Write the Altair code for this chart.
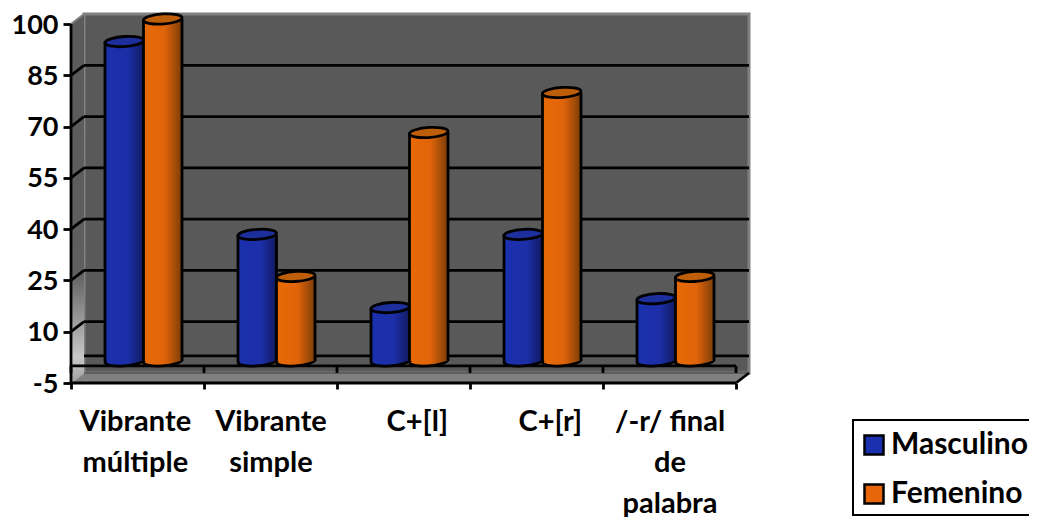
import altair as alt
import pandas as pd

categories = ["Vibrante múltiple", "Vibrante simple", "C+[l]", "C+[r]", "/-r/ final de palabra"]
label_lines = [["Vibrante", "múltiple"], ["Vibrante", "simple"], ["C+[l]"], ["C+[r]"], ["/-r/ final", "de", "palabra"]]
label_positions = [0.48, 1.5, 2.6, 3.6, 4.5]
masculino = [93.4, 37, 15.6, 37, 18.2]
femenino = [100, 24.7, 66.8, 78.5, 24.7]
series_names = ["Masculino", "Femenino"]
y_ticks = [-5, 10, 25, 40, 55, 70, 85, 100]
grid_values = [0, 10, 25, 40, 55, 70, 85]

PX_X, PX_Y = 133.0, 359 / 105
W, H = 678, 369
DX, DY = 13 / PX_X, 10 / PX_Y
XMAX, YMIN, YMAX = W / PX_X, -5, -5 + H / PX_Y
BAR_W = 38.5 / PX_X
NUDGE = 0.5 / PX_X
FONT = "Lato"
LINE = 2.8

label_expr = "".join(
    f"datum.value=={p}?[{','.join(repr(s) for s in lines)}]:" for p, lines in zip(label_positions, label_lines)
) + "''"
x_axis = alt.Axis(values=sorted(list(range(6)) + label_positions), domain=False, grid=False, tickSize=6,
                  tickWidth=LINE, tickColor="black",
                  tickOpacity=alt.condition("datum.value%1==0", alt.value(1), alt.value(0)),
                  labelExpr=label_expr, labelFont=FONT, labelFontSize=29, labelFontWeight="bold",
                  labelColor="black", labelPadding=18, labelLineHeight=41, labelAngle=0,
                  labelOverlap=False, labelFlush=False, labelLimit=300, title=None)
y_axis = alt.Axis(values=y_ticks, domain=False, grid=False, tickSize=8, tickWidth=LINE, tickColor="black",
                  labelExpr="datum.value<0?'-5':datum.label", labelOffset=1,
                  labelFont=FONT, labelFontSize=27, labelFontWeight="bold", labelColor="black",
                  labelPadding=5, title=None)

xs = alt.Scale(domain=[0, XMAX], nice=False, zero=False)
ys = alt.Scale(domain=[YMIN, YMAX], nice=False, zero=False)
def X(f="x"): return alt.X(f"{f}:Q", scale=xs, axis=x_axis)
def Y(f="y"): return alt.Y(f"{f}:Q", scale=ys, axis=y_axis)
X2 = lambda f="x2": alt.X2(f"{f}:Q")
Y2 = lambda f="y2": alt.Y2(f"{f}:Q")

def hgrad(stops):
    return alt.Gradient(gradient="linear", x1=0, x2=1, y1=0, y2=0,
                        stops=[alt.GradientStop(offset=o, color=c) for o, c in stops])

# walls, floor
wall = alt.Chart(pd.DataFrame([{"x": DX, "x2": XMAX, "y": YMIN + DY, "y2": YMAX}])).mark_rect(
    fill="#595959", stroke="#808080", strokeWidth=3).encode(X(), X2(), Y(), Y2())

side_df = pd.DataFrame([{"x": 0, "y": YMIN, "y2": 100}, {"x": DX, "y": YMIN + DY, "y2": YMAX}])
side = alt.Chart(side_df).mark_area(
    fill=alt.Gradient(gradient="linear", x1=0, x2=0, y1=0, y2=1, stops=[
        alt.GradientStop(offset=0, color="#5a5a5a"),
        alt.GradientStop(offset=0.7, color="#5f5f5f"),
        alt.GradientStop(offset=0.93, color="#c8c8c8"),
        alt.GradientStop(offset=1, color="#a0a0a0")]),
).encode(X(), Y(), Y2())

floor_df = pd.DataFrame([
    {"x": 0, "y": YMIN, "y2": YMIN},
    {"x": DX, "y": YMIN, "y2": YMIN + DY},
    {"x": 5, "y": YMIN, "y2": YMIN + DY},
    {"x": XMAX, "y": YMIN + DY, "y2": YMIN + DY},
])
floor = alt.Chart(floor_df).mark_area(fill="#808080").encode(X(), Y(), Y2())

# grid
grid = alt.Chart(pd.DataFrame([{"x": DX, "x2": XMAX, "y": v + DY} for v in grid_values])).mark_rule(
    color="black", strokeWidth=LINE).encode(X(), X2(), Y())
slants = alt.Chart(pd.DataFrame([{"x": 0, "x2": DX, "y": v, "y2": v + DY} for v in y_ticks[1:-1]])).mark_rule(
    color="black", strokeWidth=LINE).encode(X(), X2(), Y(), Y2())
top_slant = alt.Chart(pd.DataFrame([{"x": 0, "x2": DX, "y": 100, "y2": 100 + DY}])).mark_rule(
    color="#808080", strokeWidth=2).encode(X(), X2(), Y(), Y2())
floor_slants = alt.Chart(pd.DataFrame([
    {"x": 5, "x2": XMAX, "y": YMIN, "y2": YMIN + DY}])).mark_rule(
    color="black", strokeWidth=LINE).encode(X(), X2(), Y(), Y2())
floor_slant_l = alt.Chart(pd.DataFrame([{"x": 0, "x2": DX, "y": YMIN, "y2": YMIN + DY}])).mark_rule(
    color="#a8a8a8", strokeWidth=1.5).encode(X(), X2(), Y(), Y2())
floor_back = alt.Chart(pd.DataFrame([{"x": DX, "x2": XMAX, "y": YMIN + DY}])).mark_rule(
    color="#3c3c3c", strokeWidth=1).encode(X(), X2(), Y())

# zero axis line (front) and its ticks
zero_line = alt.Chart(pd.DataFrame([{"x": 0, "x2": 5, "y": 0}])).mark_rule(
    color="black", strokeWidth=LINE).encode(X(), X2(), Y())
zero_ticks = alt.Chart(pd.DataFrame([{"x": i, "y": 0, "y2": YMIN + DY} for i in range(6)])).mark_rule(
    color="black", strokeWidth=LINE).encode(X(), Y(), Y2())

# axis lines
y_axis_line = alt.Chart(pd.DataFrame([{"x": 0, "y": YMIN, "y2": 100}])).mark_rule(
    color="black", strokeWidth=LINE).encode(X(), Y(), Y2())
x_axis_line = alt.Chart(pd.DataFrame([{"x": 0, "x2": 5, "y": YMIN}])).mark_rule(
    color="black", strokeWidth=LINE).encode(X(), X2(), Y())

# cylinders
rows = []
for i, cat in enumerate(categories):
    c = i + 0.5 + DX / 2 - NUDGE
    rows.append({"categoria": cat, "serie": series_names[0], "x": c - BAR_W, "x2": c,
                 "xc": c - BAR_W / 2, "y": DY / 2, "y2": masculino[i] + DY / 2})
    rows.append({"categoria": cat, "serie": series_names[1], "x": c, "x2": c + BAR_W,
                 "xc": c + BAR_W / 2, "y": DY / 2, "y2": femenino[i] + DY / 2})
bars = pd.DataFrame(rows)

ELL = "M-1,0.06 A1,0.26 -4 1,1 1,-0.06 A1,0.26 -4 1,1 -1,0.06 Z"
SIZE = 38.5 ** 2

legend_base = alt.Chart(bars).mark_rect().encode(
    X(), X2(), Y(), Y2(),
    color=alt.Color("serie:N", sort=series_names,
                    scale=alt.Scale(domain=series_names, range=["#1b30ae", "#e8660a"]),
                    legend=alt.Legend(orient="none", legendX=853 - 71, legendY=420 - 14,
                                      title="\u00a0", titleFontSize=1, titlePadding=3,
                                      direction="vertical", fillColor="white", strokeColor="black",
                                      padding=6, symbolType="square", symbolSize=361,
                                      symbolStrokeColor="black", symbolStrokeWidth=2.5,
                                      labelFont=FONT, labelFontSize=30, labelFontWeight="bold",
                                      labelColor="black", rowPadding=19, labelOffset=2, labelLimit=200,
                                      symbolOpacity=1)),
)

def cylinder(name, body_stops, top_color):
    d = bars[bars.serie == name]
    g = hgrad(body_stops)
    bottom = alt.Chart(d).mark_point(shape=ELL, size=SIZE, filled=True, fill=g, stroke="black",
                                     strokeWidth=LINE, opacity=1).encode(X("xc"), Y("y"))
    body = alt.Chart(d).mark_rect(fill=g).encode(X(), X2(), Y(), Y2())
    left = alt.Chart(d).mark_rule(color="black", strokeWidth=LINE).encode(X("x"), Y(), Y2())
    right = alt.Chart(d).mark_rule(color="black", strokeWidth=LINE).encode(X("x2"), Y(), Y2())
    top = alt.Chart(d).mark_point(shape=ELL, size=SIZE, filled=True, fill=top_color, stroke="black",
                                  strokeWidth=LINE, opacity=1).encode(X("xc"), Y("y2"))
    return [bottom, body, left, right, top]

blue = cylinder("Masculino", [(0, "#1b30ae"), (0.6, "#1c2fa8"), (1, "#101a5e")], "#1c2f9c")
orange = cylinder("Femenino", [(0, "#e86a05"), (0.55, "#e0640a"), (1, "#7a3c08")], "#bd5e0a")

chart = alt.layer(
    wall, side, floor, floor_back, grid, slants, top_slant, floor_slant_l, floor_slants,
    zero_line, zero_ticks, y_axis_line, x_axis_line, legend_base, *blue, *orange
).properties(
    width=W, height=H,
    autosize=alt.AutoSizeParams(type="none"),
    padding={"left": 63, "top": 6, "right": 280, "bottom": 134},
    background="white",
).configure_view(stroke=None).configure_legend(strokeWidth=2)

chart.save("out.html", embed_options={"renderer": "svg", "actions": False})
